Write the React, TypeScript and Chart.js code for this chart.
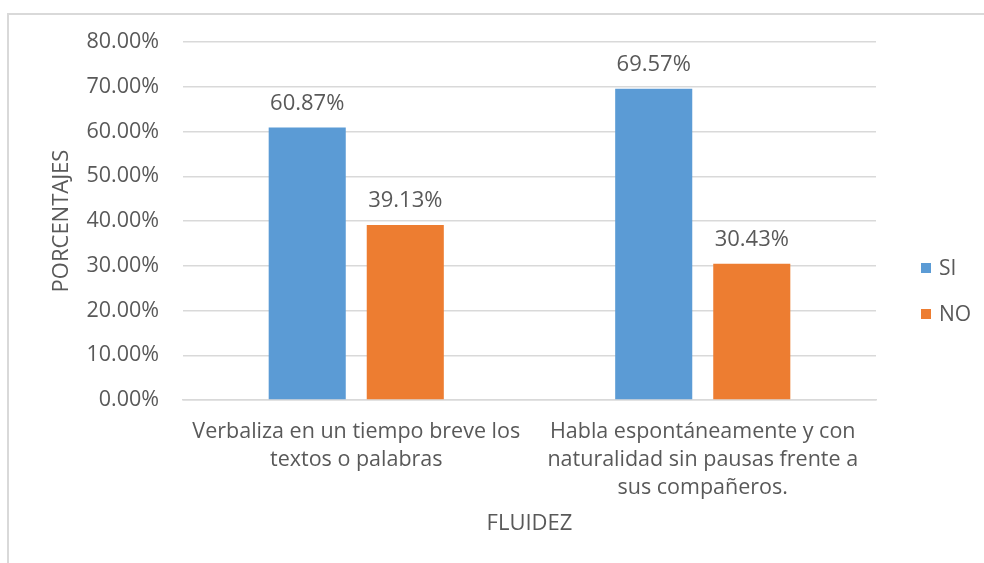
import React, { useEffect, useRef } from "react";
import { Chart, registerables } from "chart.js";

Chart.register(...registerables);

const categories: string[][] = [
  ["Verbaliza en un tiempo breve los", "textos o palabras"],
  ["Habla espontáneamente y con", "naturalidad sin pausas frente a", "sus compañeros."],
];
const siValues = [60.87, 69.57];
const noValues = [39.13, 30.43];
const seriesNames = ["SI", "NO"];
const seriesColors = ["#5b9bd5", "#ed7d31"];
const yTickMax = 80;
const yTickStep = 10;
const xTitle = "FLUIDEZ";
const yTitle = "PORCENTAJES";

const FONT = "'Open Sans', sans-serif";
const TEXT = "#595959";

export default function App() {
  const ref = useRef<HTMLCanvasElement | null>(null);
  useEffect(() => {
    if (!ref.current) return;
    const dataLabels = {
      id: "dataLabels",
      afterDatasetsDraw(chart: any) {
        const ctx = chart.ctx;
        ctx.save();
        ctx.font = `22px ${FONT}`;
        ctx.fillStyle = TEXT;
        ctx.textAlign = "center";
        ctx.textBaseline = "middle";
        chart.data.datasets.forEach((ds: any, i: number) => {
          const meta = chart.getDatasetMeta(i);
          meta.data.forEach((bar: any, j: number) => {
            ctx.fillText(`${Number(ds.data[j]).toFixed(2)}%`, bar.x, bar.y - 24);
          });
        });
        ctx.restore();
      },
    };
    const legend = {
      id: "customLegend",
      afterDraw(chart: any) {
        const ctx = chart.ctx;
        ctx.save();
        ctx.font = `21px ${FONT}`;
        ctx.textAlign = "left";
        ctx.textBaseline = "middle";
        chart.data.datasets.forEach((ds: any, i: number) => {
          const y = 268 + i * 46;
          ctx.fillStyle = ds.backgroundColor;
          ctx.fillRect(921, y - 5, 10, 10);
          ctx.fillStyle = TEXT;
          ctx.fillText(ds.label, 939, y + 1);
        });
        ctx.restore();
      },
    };
    const chart = new Chart(ref.current, {
      type: "bar",
      data: {
        labels: categories,
        datasets: [
          { label: seriesNames[0], data: siValues, backgroundColor: seriesColors[0] },
          { label: seriesNames[1], data: noValues, backgroundColor: seriesColors[1] },
        ],
      },
      options: {
        responsive: false,
        animation: false,
        layout: { padding: { left: 0, right: 108, top: 42, bottom: 0 } },
        datasets: { bar: { categoryPercentage: 0.566, barPercentage: 0.786 } },
        plugins: { legend: { display: false }, tooltip: { enabled: false } },
        scales: {
          x: {
            grid: { display: false, drawTicks: false },
            border: { display: true, color: "#d9d9d9", width: 1.5 },
            ticks: {
              color: TEXT,
              font: { family: FONT, size: 21.5, lineHeight: 28 / 21.5 },
              padding: 18,
              maxRotation: 0,
              autoSkip: false,
            },
            title: {
              display: true,
              text: xTitle,
              color: TEXT,
              font: { family: FONT, size: 22, lineHeight: 1.2 },
              padding: { top: 0, bottom: 26 },
            },
            afterFit: (s: any) => {
              s.height = 163;
            },
          },
          y: {
            min: 0,
            max: yTickMax,
            grid: { color: "#d9d9d9", lineWidth: 1.5, drawTicks: false },
            border: { display: false },
            ticks: {
              stepSize: yTickStep,
              color: TEXT,
              font: { family: FONT, size: 21.5 },
              padding: 24,
              callback: (v: any) => `${Number(v).toFixed(2)}%`,
            },
            title: {
              display: true,
              text: yTitle,
              color: TEXT,
              font: { family: FONT, size: 22, lineHeight: 1.2 },
              padding: { top: 49, bottom: 0 },
            },
            afterFit: (s: any) => {
              s.width = 183;
            },
          },
        },
      },
      plugins: [dataLabels, legend],
    });
    return () => chart.destroy();
  }, []);
  return (
    <>
      <div
        style={{
          position: "fixed",
          left: 7,
          top: 13,
          width: 1000,
          height: 600,
          border: "2px solid #d9d9d9",
          boxSizing: "border-box",
        }}
      />
      <canvas
        ref={ref}
        width={984}
        height={563}
        style={{ position: "fixed", left: 0, top: 0, width: 984, height: 563 }}
      />
    </>
  );
}
